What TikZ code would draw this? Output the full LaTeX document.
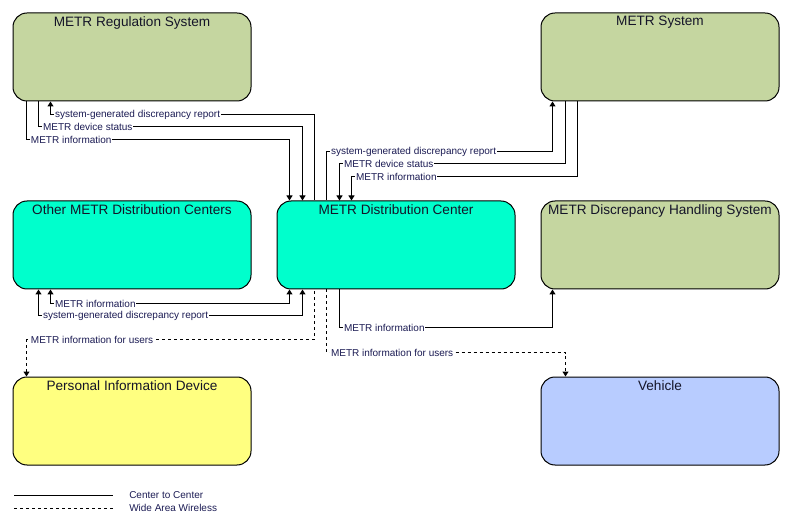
\documentclass[tikz,border=0pt]{standalone}
\usepackage{fontspec}
\setmainfont{Liberation Sans}
\usetikzlibrary{arrows.meta,calc}
\definecolor{regcol}{RGB}{197,214,160}
\definecolor{dccol}{RGB}{0,255,204}
\definecolor{pidcol}{RGB}{255,255,128}
\definecolor{vehcol}{RGB}{184,204,255}
\definecolor{flowtext}{RGB}{28,28,84}
\definecolor{titletext}{RGB}{20,20,40}
\tikzstyle{system} = [
	draw,
	rectangle,
	rounded corners = 10.5pt,
	minimum width = 178.5pt,
	minimum height = 66pt,
	line width = 0.75pt
]
\tikzstyle{boxtitle} = [
	anchor = north,
	inner sep = 2.8pt,
	text = titletext,
	font = \fontsize{10.2}{12}\selectfont
]
\tikzstyle{flowlabel} = [
	anchor = west,
	fill = white,
	inner sep = 0.6pt,
	xshift = 2.4pt,
	text = flowtext,
	font = \fontsize{7.5}{9}\selectfont
]
\tikzstyle{flow} = [line width = 0.75pt]
\tikzstyle{wireless} = [line width = 0.75pt, dash pattern = on 2.25pt off 2.25pt]

\begin{document}
\begin{tikzpicture}[x=0.75pt, y=-0.75pt, >={Triangle[length=3.75pt,width=4.5pt]}]
	\useasboundingbox (0,0) rectangle (789,527);
	\node [system, fill=regcol, label={[boxtitle]north:METR Regulation System}] (reg) at (132,57) {};
	\node [system, fill=regcol, label={[boxtitle]north:METR System}] (ms) at (660,57) {};
	\node [system, fill=dccol, label={[boxtitle]north:Other METR Distribution Centers}] (odc) at (132,245) {};
	\node [system, fill=dccol, label={[boxtitle]north:METR Distribution Center}] (dc) at (396,245) {};
	\node [system, fill=regcol, label={[boxtitle]north:METR Discrepancy Handling System}] (dhs) at (660,245) {};
	\node [system, fill=pidcol, label={[boxtitle]north:Personal Information Device}] (pid) at (132,421) {};
	\node [system, fill=vehcol, label={[boxtitle]north:Vehicle}] (veh) at (660,421) {};
	
	% regulation system
	\draw[flow,<-] ($(reg.south west)+(38,0)$) -- ++(0,13) node[flowlabel]{system-generated discrepancy report} -| ($(dc.north west)+(38,0)$);
	\draw[flow,->] ($(reg.south west)+(26,0)$) -- ++(0,25) node[flowlabel]{METR device status} -| ($(dc.north west)+(26,0)$);
	\draw[flow,->] ($(reg.south west)+(14,0)$) -- ++(0,38) node[flowlabel]{METR information} -| ($(dc.north west)+(13,0)$);
	
	% metr system
	\draw[flow,->] ($(dc.north west)+(50,0)$) -- ++(0,-49) node[flowlabel]{system-generated discrepancy report} -| ($(ms.south west)+(12,0)$);
	\draw[flow,<-] ($(dc.north west)+(63,0)$) -- ++(0,-37) node[flowlabel]{METR device status} -| ($(ms.south west)+(25,0)$);
	\draw[flow,<-] ($(dc.north west)+(75,0)$) -- ++(0,-24) node[flowlabel]{METR information} -| ($(ms.south west)+(37,0)$);
	
	% other centers
	\draw[flow,<->] ($(odc.south west)+(38,0)$) -- ++(0,14) node[flowlabel]{METR information} -| ($(dc.south west)+(13,0)$);
	\draw[flow,<->] ($(odc.south west)+(26,0)$) -- ++(0,26) node[flowlabel]{system-generated discrepancy report} -| ($(dc.south west)+(26,0)$);
	
	% discrepancy handling
	\draw[flow,->] ($(dc.south west)+(63,0)$) -- ++(0,38) node[flowlabel]{METR information} -| ($(dhs.south west)+(12,0)$);
	
	% wireless
	\draw[wireless,<-] ($(pid.north west)+(14,0)$) -- ++(0,-37) node[flowlabel]{METR information for users} -| ($(dc.south west)+(38,0)$);
	\draw[wireless,->] ($(dc.south west)+(50,0)$) -- ++(0,63) node[flowlabel]{METR information for users} -| ($(veh.north west)+(25,0)$);
	
	% legend
	\coordinate (lcc0) at (14,495);
	\coordinate (lcc1) at (113,495);
	\coordinate (law0) at (14,508);
	\coordinate (law1) at (113,508);
	\node [flowlabel, anchor=west, xshift=0pt, fill=none] (lcc) at (125,495) {Center to Center};
	\node [flowlabel, anchor=west, xshift=0pt, fill=none] (law) at (125,508) {Wide Area Wireless};
	\draw[flow] (lcc0) -- (lcc1);
	\draw[wireless] (law0) -- (law1);
\end{tikzpicture}
\end{document}
